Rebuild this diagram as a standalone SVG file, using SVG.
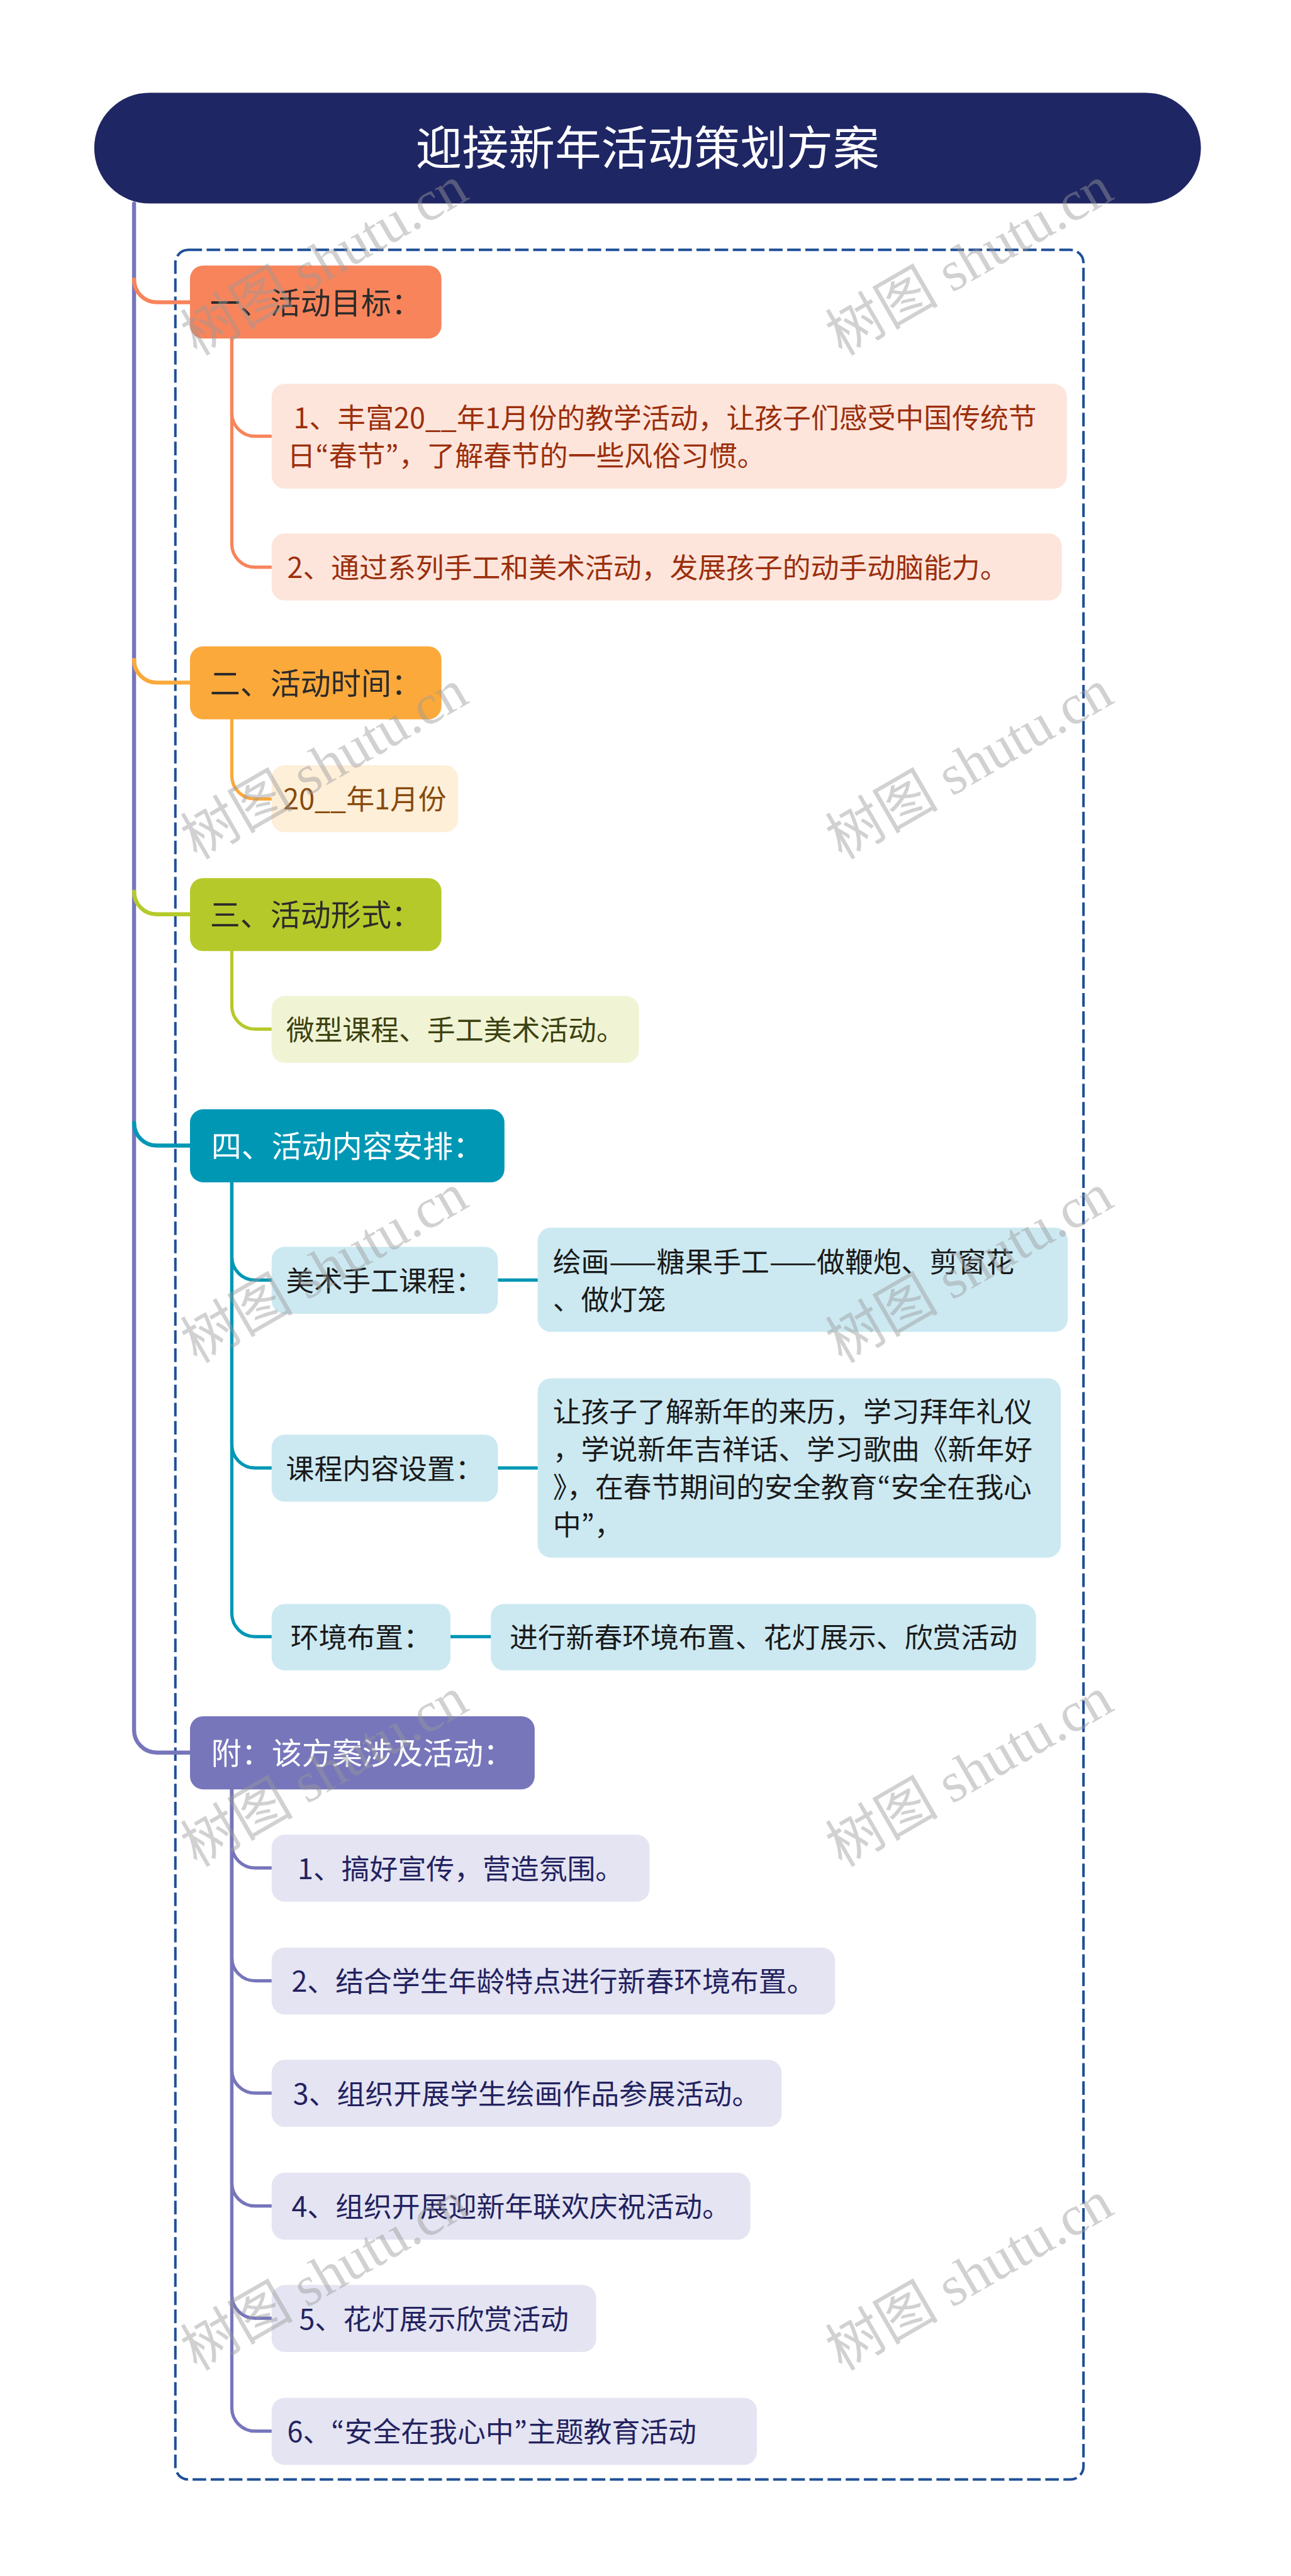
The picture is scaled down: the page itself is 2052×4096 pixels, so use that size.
<svg xmlns="http://www.w3.org/2000/svg" width="2052" height="4096" viewBox="0 0 2052 4096">
<style>
  text { font-family: "Noto Sans CJK SC", "Noto Sans", sans-serif; }
  .q { font-family: "Noto Sans CJK JP", "Noto Sans", sans-serif; }
  .title { font-size: 92px; fill: #ffffff; text-anchor: middle; }
  .l1 { font-size: 60px; text-anchor: middle; }
  .c { font-size: 56px; }
  .mid { text-anchor: middle; }
  .dark { fill: #2b2b2b; }
  .white { fill: #ffffff; }
  .con { fill: none; stroke-width: 8; stroke-linecap: round; }
  .sub { fill: none; stroke-width: 6.5; stroke-linecap: round; }
  .wm { font-family: "Liberation Serif", "Noto Sans CJK SC", serif; font-size: 112px; fill: #9a9a9a; opacity: 0.45; text-anchor: middle; }
</style>
<rect width="2052" height="4096" fill="#ffffff"/>
<g transform="scale(0.801)">
  <rect id="frame" x="348" y="496" width="1802" height="4426" rx="26" fill="none" stroke="#1f4f97" stroke-width="5" stroke-dasharray="27 9"/>

  <g id="connectors">
    <path class="con" stroke="#7776bb" d="M266 404 V3434 A45 45 0 0 0 311 3479 L377 3479"/>
    <path class="con" stroke="#f8845b" d="M266 555 A45 45 0 0 0 311 600 L377 600"/>
    <path class="con" stroke="#fba93b" d="M266 1310 A45 45 0 0 0 311 1355 L377 1355"/>
    <path class="con" stroke="#b6c92b" d="M266 1770 A45 45 0 0 0 311 1815 L377 1815"/>
    <path class="con" stroke="#0097b5" d="M266 2229 A45 45 0 0 0 311 2274 L377 2274"/>

    <path class="sub" stroke="#f8845b" d="M460 672 V820 A46 46 0 0 0 506 866 L539 866"/>
    <path class="sub" stroke="#f8845b" d="M460 672 V1080 A46 46 0 0 0 506 1126 L539 1126"/>
    <path class="sub" stroke="#fba93b" d="M460 1428 V1540 A46 46 0 0 0 506 1586 L539 1586"/>
    <path class="sub" stroke="#b6c92b" d="M460 1888 V1997 A46 46 0 0 0 506 2043 L539 2043"/>

    <path class="sub" stroke="#0097b5" d="M460 2347 V2495 A46 46 0 0 0 506 2541 L539 2541"/>
    <path class="sub" stroke="#0097b5" d="M460 2347 V2868 A46 46 0 0 0 506 2914 L539 2914"/>
    <path class="sub" stroke="#0097b5" d="M460 2347 V3203 A46 46 0 0 0 506 3249 L539 3249"/>
    <path class="sub" stroke="#0097b5" d="M988 2541 H1067"/>
    <path class="sub" stroke="#0097b5" d="M988 2914 H1067"/>
    <path class="sub" stroke="#0097b5" d="M894 3249 H974"/>

    <path class="sub" stroke="#7776bb" d="M460 3552 V3662 A46 46 0 0 0 506 3708 L539 3708"/>
    <path class="sub" stroke="#7776bb" d="M460 3552 V3886 A46 46 0 0 0 506 3932 L539 3932"/>
    <path class="sub" stroke="#7776bb" d="M460 3552 V4109 A46 46 0 0 0 506 4155 L539 4155"/>
    <path class="sub" stroke="#7776bb" d="M460 3552 V4333 A46 46 0 0 0 506 4379 L539 4379"/>
    <path class="sub" stroke="#7776bb" d="M460 3552 V4556 A46 46 0 0 0 506 4602 L539 4602"/>
    <path class="sub" stroke="#7776bb" d="M460 3552 V4780 A46 46 0 0 0 506 4826 L539 4826"/>
  </g>

  <g id="title">
    <rect x="187" y="184" width="2196" height="220" rx="110" fill="#1f2664"/>
    <text class="title" x="1285" y="327">迎接新年活动策划方案</text>
  </g>

  <g id="n1">
    <rect x="377" y="527" width="499" height="145" rx="26" fill="#f8845b"/>
    <text class="l1 dark" x="626.5" y="623">一、活动目标：</text>
  </g>
  <g id="n1a">
    <rect x="539" y="762" width="1578" height="208" rx="26" fill="#fde5dc"/>
    <text class="c" fill="#9b2f0c" x="570" y="850">&#160;1、丰富20__年1月份的教学活动，让孩子们感受中国传统节</text>
    <text class="c" fill="#9b2f0c" x="570" y="925">日<tspan class="q">“</tspan>春节<tspan class="q">”</tspan>，了解春节的一些风俗习惯。</text>
  </g>
  <g id="n1b">
    <rect x="539" y="1059" width="1568" height="133" rx="26" fill="#fde5dc"/>
    <text class="c" fill="#9b2f0c" x="570" y="1147">2、通过系列手工和美术活动，发展孩子的动手动脑能力。</text>
  </g>

  <g id="n2">
    <rect x="377" y="1283" width="499" height="145" rx="26" fill="#fba93b"/>
    <text class="l1 dark" x="626.5" y="1378">二、活动时间：</text>
  </g>
  <g id="n2a">
    <rect x="539" y="1519" width="370" height="133" rx="26" fill="#feefd9"/>
    <text class="c mid" fill="#874a0c" x="724" y="1607">20__年1月份</text>
  </g>

  <g id="n3">
    <rect x="377" y="1743" width="499" height="145" rx="26" fill="#b6c92b"/>
    <text class="l1 dark" x="626.5" y="1838">三、活动形式：</text>
  </g>
  <g id="n3a">
    <rect x="539" y="1977" width="729" height="133" rx="26" fill="#f0f4d5"/>
    <text class="c mid" fill="#3d4212" x="903.5" y="2065">微型课程、手工美术活动。</text>
  </g>

  <g id="n4">
    <rect x="377" y="2202" width="624" height="145" rx="26" fill="#0097b5"/>
    <text class="l1 white" x="689" y="2297">四、活动内容安排：</text>
  </g>
  <g id="n4a">
    <rect x="539" y="2475" width="449" height="133" rx="26" fill="#cce9f2"/>
    <text class="c mid" fill="#1a1a1a" x="763.5" y="2563">美术手工课程：</text>
  </g>
  <g id="n4a1">
    <rect x="1067" y="2437" width="1052" height="207" rx="26" fill="#cce9f2"/>
    <text class="c" fill="#1a1a1a" x="1097" y="2525">绘画——糖果手工——做鞭炮、剪窗花</text>
    <text class="c" fill="#1a1a1a" x="1097" y="2600">、做灯笼</text>
  </g>
  <g id="n4b">
    <rect x="539" y="2848" width="449" height="133" rx="26" fill="#cce9f2"/>
    <text class="c mid" fill="#1a1a1a" x="763.5" y="2936">课程内容设置：</text>
  </g>
  <g id="n4b1">
    <rect x="1067" y="2736" width="1038" height="356" rx="26" fill="#cce9f2"/>
    <text class="c" fill="#1a1a1a" x="1097" y="2823">让孩子了解新年的来历，学习拜年礼仪</text>
    <text class="c" fill="#1a1a1a" x="1097" y="2898">，学说新年吉祥话、学习歌曲《新年好</text>
    <text class="c" fill="#1a1a1a" x="1097" y="2973">》，在春节期间的安全教育<tspan class="q">“</tspan>安全在我心</text>
    <text class="c" fill="#1a1a1a" x="1097" y="3048">中<tspan class="q">”</tspan>，</text>
  </g>
  <g id="n4c">
    <rect x="539" y="3184" width="355" height="132" rx="26" fill="#cce9f2"/>
    <text class="c mid" fill="#1a1a1a" x="716.5" y="3271">环境布置：</text>
  </g>
  <g id="n4c1">
    <rect x="974" y="3184" width="1082" height="132" rx="26" fill="#cce9f2"/>
    <text class="c mid" fill="#1a1a1a" x="1515" y="3271">进行新春环境布置、花灯展示、欣赏活动</text>
  </g>

  <g id="n5">
    <rect x="377" y="3407" width="684" height="145" rx="26" fill="#7776bb"/>
    <text class="l1 white" x="719" y="3502">附：该方案涉及活动：</text>
  </g>
  <g id="n5a">
    <rect x="539" y="3642" width="750" height="133" rx="26" fill="#e4e4f2"/>
    <text class="c mid" fill="#23225f" x="914" y="3730">1、搞好宣传，营造氛围。</text>
  </g>
  <g id="n5b">
    <rect x="539" y="3866" width="1118" height="133" rx="26" fill="#e4e4f2"/>
    <text class="c mid" fill="#23225f" x="1098" y="3954">2、结合学生年龄特点进行新春环境布置。</text>
  </g>
  <g id="n5c">
    <rect x="539" y="4089" width="1012" height="133" rx="26" fill="#e4e4f2"/>
    <text class="c mid" fill="#23225f" x="1045" y="4177">3、组织开展学生绘画作品参展活动。</text>
  </g>
  <g id="n5d">
    <rect x="539" y="4313" width="950" height="133" rx="26" fill="#e4e4f2"/>
    <text class="c mid" fill="#23225f" x="1014" y="4401">4、组织开展迎新年联欢庆祝活动。</text>
  </g>
  <g id="n5e">
    <rect x="539" y="4536" width="644" height="133" rx="26" fill="#e4e4f2"/>
    <text class="c mid" fill="#23225f" x="861" y="4624">5、花灯展示欣赏活动</text>
  </g>
  <g id="n5f">
    <rect x="539" y="4760" width="963" height="133" rx="26" fill="#e4e4f2"/>
    <text class="c" fill="#23225f" x="570" y="4848">6、<tspan class="q">“</tspan>安全在我心中<tspan class="q">”</tspan>主题教育活动</text>
  </g>

  <g id="watermark">
    <text class="wm" transform="translate(645 520) rotate(-30)" y="35">树图 shutu.cn</text>
    <text class="wm" transform="translate(1925 520) rotate(-30)" y="35">树图 shutu.cn</text>
    <text class="wm" transform="translate(645 1520) rotate(-30)" y="35">树图 shutu.cn</text>
    <text class="wm" transform="translate(1925 1520) rotate(-30)" y="35">树图 shutu.cn</text>
    <text class="wm" transform="translate(645 2520) rotate(-30)" y="35">树图 shutu.cn</text>
    <text class="wm" transform="translate(1925 2520) rotate(-30)" y="35">树图 shutu.cn</text>
    <text class="wm" transform="translate(645 3520) rotate(-30)" y="35">树图 shutu.cn</text>
    <text class="wm" transform="translate(1925 3520) rotate(-30)" y="35">树图 shutu.cn</text>
    <text class="wm" transform="translate(645 4520) rotate(-30)" y="35">树图 shutu.cn</text>
    <text class="wm" transform="translate(1925 4520) rotate(-30)" y="35">树图 shutu.cn</text>
  </g>
</g>
</svg>
